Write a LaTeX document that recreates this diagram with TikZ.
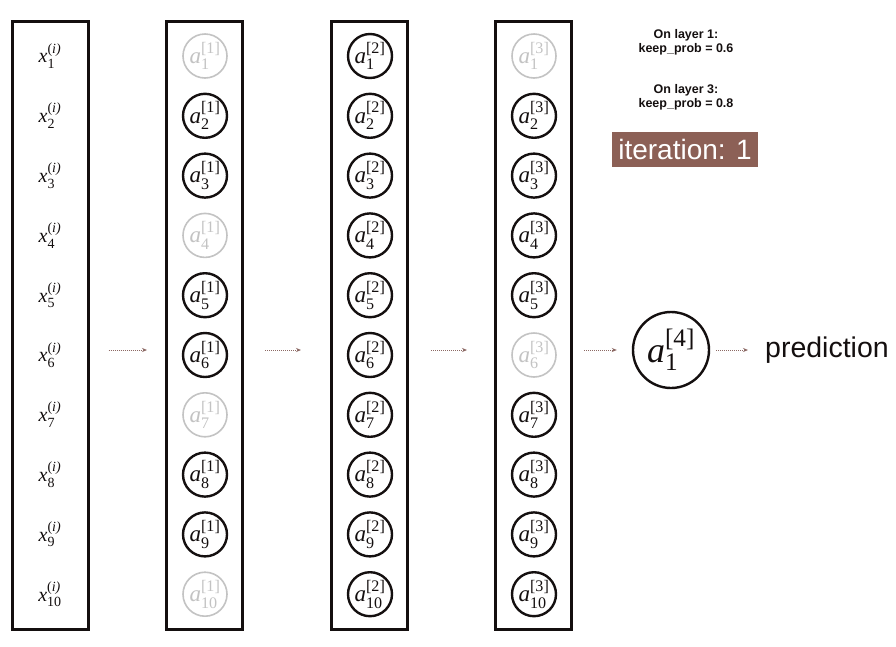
\RequirePackage{fix-cm}
\documentclass[tikz,border=0pt]{standalone}
\usepackage{amsmath}
\usepackage[no-math]{fontspec}
\newfontfamily\hel{Liberation Sans}
\newfontfamily\tms{Liberation Serif}
\usetikzlibrary{arrows.meta}
\definecolor{ink}{RGB}{20,15,15}
\definecolor{faded}{RGB}{195,195,195}
\definecolor{arrowc}{RGB}{140,105,100}
\definecolor{brownbox}{RGB}{140,96,86}
\newcommand\nlabel[3]{$\text{\tms\itshape #1}^{\text{\tms #2}}_{\text{\tms #3}}$}
\begin{document}
\begin{tikzpicture}[x=1pt,y=-1pt,
  layerbox/.style={draw=ink,line width=3pt,minimum width=76pt,minimum height=608pt,inner sep=0pt},
  unit/.style={circle,draw=ink,line width=2.4pt,minimum size=44pt,inner sep=0pt,text=ink,font=\fontsize{23}{26}\selectfont},
  dropped/.style={unit,draw=faded,text=faded,line width=1.6pt},
  xin/.style={text=ink,font=\fontsize{20}{22}\selectfont,inner sep=0pt},
  flow/.style={-{Stealth[length=5pt,width=4pt]},densely dotted,draw=arrowc,line width=1pt},
  note/.style={align=center,text=ink,font=\hel\bfseries\fontsize{12.5}{14}\selectfont}
]
\useasboundingbox (0,0) rectangle (896,646);
\fill[white] (0,0) rectangle (896,646);
% layer boxes
\node[layerbox] (r1) at (50,325.5) {};
\node[layerbox] (r2) at (204.5,325.5) {};
\node[layerbox] (r3) at (369.5,325.5) {};
\node[layerbox] (r4) at (533.5,325.5) {};
% inputs
\foreach \k in {1,...,10}{
  \node[xin] (x\k) at (50,{56+59.8*(\k-1)}) {\nlabel{x}{(\itshape i)}{\k}};
}
% layer 1
\foreach \k in {1,...,10}{
  \ifnum\k=1 \def\st{dropped}\else\ifnum\k=4 \def\st{dropped}\else\ifnum\k=7 \def\st{dropped}\else\ifnum\k=10 \def\st{dropped}\else\def\st{unit}\fi\fi\fi\fi
  \node[\st] (p\k) at (205,{56+59.8*(\k-1)}) {\nlabel{a}{[1]}{\k}};
}
% layer 2
\foreach \k in {1,...,10}{
  \node[unit] (q\k) at (370,{56+59.8*(\k-1)}) {\nlabel{a}{[2]}{\k}};
}
% layer 3
\foreach \k in {1,...,10}{
  \ifnum\k=1 \def\st{dropped}\else\ifnum\k=6 \def\st{dropped}\else\def\st{unit}\fi\fi
  \node[\st] (s\k) at (534,{56+59.8*(\k-1)}) {\nlabel{a}{[3]}{\k}};
}
% output
\node[unit,minimum size=76pt,font=\fontsize{36}{40}\selectfont] (out) at (671,350) {\nlabel{a}{[4]}{1}};
\node[anchor=west,inner sep=0pt,text=ink,font=\hel\fontsize{28.5}{30}\selectfont] (pred) at (765,350) {prediction};
% arrows
\draw[flow,shorten <=19pt,shorten >=18pt] (r1.east |- out.center) -- (r2.west |- out.center);
\draw[flow,shorten <=21pt,shorten >=29pt] (r2.east |- out.center) -- (r3.west |- out.center);
\draw[flow,shorten <=22pt,shorten >=27pt] (r3.east |- out.center) -- (r4.west |- out.center);
\draw[flow,shorten <=11pt,shorten >=15pt] (r4.east |- out.center) -- (out.west);
\draw[flow,shorten <=6pt,shorten >=17pt] (out.east) -- (pred.west);
% notes
\node[note] (n1) at (686,42) {On layer 1:\\keep\_prob = 0.6};
\node[note] (n3) at (686,97) {On layer 3:\\keep\_prob = 0.8};
\node[fill=brownbox,text=white,minimum width=146pt,minimum height=35pt,inner sep=0pt,font=\hel\fontsize{28}{30}\selectfont] (it) at (685,149.5) {iteration: 1};
\end{tikzpicture}
\end{document}
